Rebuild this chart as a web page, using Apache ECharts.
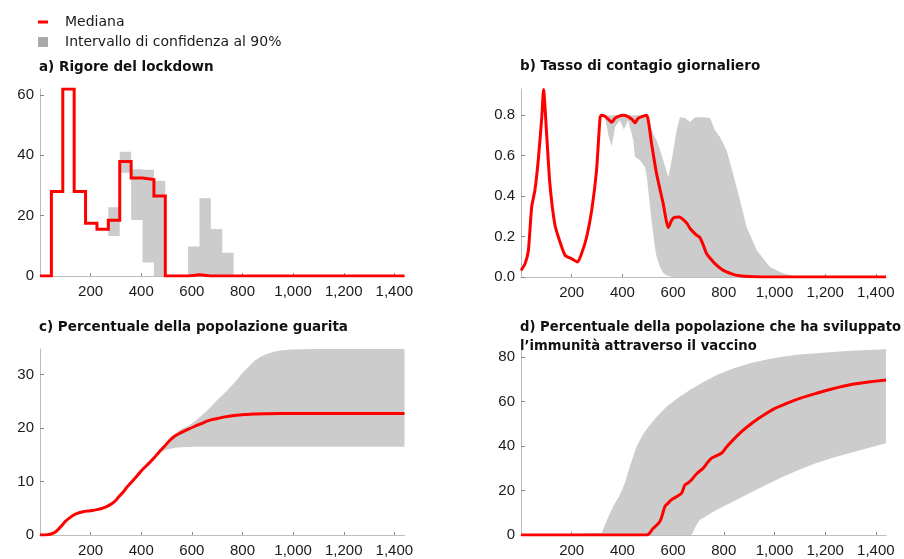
<!DOCTYPE html>
<html>
<head>
<meta charset="utf-8">
<script src="https://cdn.jsdelivr.net/npm/echarts@6/dist/echarts.min.js"></script>
<style>
html,body{margin:0;padding:0;background:#fff;}
#chart{width:904px;height:559px;}
</style>
</head>
<body>
<div id="chart"></div>
<script>
// ---------- Data ----------
const xTickValues = [200, 400, 600, 800, 1000, 1200, 1400];

// a) Rigore del lockdown (step function, value holds from x[i] to x[i+1])
const aX      = [0, 45, 90, 135, 180, 225, 270, 315, 360, 405, 450, 495, 540, 585, 630, 675, 720, 765, 1440];
const aMedian = [0, 28, 62, 28, 17.5, 15.5, 18.5, 38, 32.5, 32, 26.5, 0, 0, 0.4, 0, 0, 0, 0, 0];
const aLow    = [0, 28, 62, 28, 17.5, 15.5, 13.3, 34.2, 18.6, 4.5, 0, 0, 0, 0, 0, 0, 0, 0, 0];
const aHigh   = [0, 28, 62, 28, 17.5, 15.5, 22.8, 41.2, 35.4, 35.2, 31.6, 0, 0, 9.8, 25.8, 15.6, 7.7, 0, 0];
const aYTicks = [0, 20, 40, 60];

// b) Tasso di contagio giornaliero
const bX = [0, 16, 29, 42, 55, 68, 82, 89, 101, 114, 134, 154, 174, 200, 223, 239, 259, 279, 298, 312, 318,
            331, 345, 358, 370, 385, 403, 420, 438, 450, 462, 480, 496,
            515, 535, 561, 581, 594, 605, 625, 640, 655, 667, 690, 706, 720, 732, 748, 765, 790, 811, 840, 864, 900, 950, 1000, 1440];
const bMedian = [0.033, 0.066, 0.13, 0.346, 0.43, 0.577, 0.79, 0.927, 0.71, 0.46, 0.256, 0.173, 0.107, 0.09, 0.074, 0.116, 0.198, 0.33, 0.528, 0.79, 0.8,
            0.795, 0.78, 0.765, 0.785, 0.795, 0.8, 0.795, 0.78, 0.763, 0.785, 0.795, 0.8,
            0.66, 0.51, 0.363, 0.245, 0.28, 0.295, 0.297, 0.284, 0.265, 0.24, 0.21, 0.195, 0.155, 0.116, 0.09, 0.066, 0.04, 0.025, 0.012, 0.006, 0.002, 0.0005, 0, 0];
const bBandX = [312, 331, 345, 358, 371, 390, 406, 423, 443, 450, 469, 489, 496, 502, 509, 515, 528, 535, 548, 561, 575, 581, 590,
                601, 614, 627, 647, 667, 686, 719, 746, 765, 785, 811, 837, 864, 890, 930, 982, 1035, 1087, 1150, 1440];
const bLow  = [0.8, 0.79, 0.7, 0.645, 0.742, 0.775, 0.73, 0.775, 0.676, 0.594, 0.577, 0.544, 0.5, 0.43, 0.35, 0.28, 0.148, 0.1, 0.05, 0.02, 0.008, 0.005, 0.002,
               0, 0, 0, 0, 0, 0, 0, 0, 0, 0, 0, 0, 0, 0, 0, 0, 0, 0, 0, 0];
const bHigh = [0.8, 0.8, 0.8, 0.8, 0.8, 0.8, 0.8, 0.8, 0.8, 0.8, 0.8, 0.8, 0.8, 0.79, 0.76, 0.73, 0.69, 0.676, 0.63, 0.577, 0.52, 0.495, 0.55,
               0.627, 0.726, 0.79, 0.787, 0.767, 0.79, 0.79, 0.787, 0.726, 0.693, 0.627, 0.51, 0.38, 0.247, 0.132, 0.05, 0.017, 0.003, 0, 0];
const bYTicks = [0, 0.2, 0.4, 0.6, 0.8];

// c) Percentuale della popolazione guarita
const cX = [0, 20, 35, 50, 62, 75, 88, 100, 114, 130, 147, 170, 200, 225, 246, 265, 286, 300, 312, 330, 345, 375, 404, 430, 450, 470, 490, 510, 529, 555, 582, 610, 635, 665, 701, 730, 766, 800, 845, 900, 1000, 1440];
const cMedian = [0, 0.02, 0.1, 0.3, 0.62, 1.2, 1.87, 2.55, 3.1, 3.65, 4.06, 4.35, 4.55, 4.75, 5.0, 5.35, 5.93, 6.5, 7.2, 8.1, 9.05, 10.6, 12.2, 13.4, 14.4, 15.5, 16.5, 17.6, 18.4, 19.1, 19.7, 20.3, 20.8, 21.4, 21.8, 22.1, 22.35, 22.5, 22.66, 22.7, 22.72, 22.72];
const cBandX = [470, 490, 503, 520, 543, 560, 582, 610, 635, 670, 701, 735, 766, 800, 845, 870, 898, 925, 951, 990, 1030, 1100, 1440];
const cLow  = [15.5, 15.8, 16.0, 16.2, 16.35, 16.4, 16.45, 16.5, 16.5, 16.5, 16.5, 16.5, 16.5, 16.5, 16.5, 16.5, 16.5, 16.5, 16.5, 16.5, 16.5, 16.5, 16.5];
const cHigh = [15.5, 16.6, 17.3, 18.4, 19.3, 19.9, 20.3, 21.2, 22.2, 23.7, 25.3, 26.8, 28.4, 30.3, 32.5, 33.3, 33.9, 34.3, 34.5, 34.7, 34.75, 34.8, 34.8];
const cYTicks = [0, 10, 20, 30];

// d) Percentuale della popolazione che ha sviluppato l'immunità attraverso il vaccino
const dX = [0, 496, 520, 548, 560, 568, 580, 594, 615, 634, 647, 660, 673, 695, 719, 735, 752, 770, 792, 810, 837, 870, 903, 935, 969, 1000, 1035, 1100, 1166, 1230, 1298, 1370, 1440];
const dMedian = [0, 0, 2.8, 6.1, 10, 12.9, 14.3, 15.9, 17.3, 18.9, 22.6, 23.5, 24.9, 27.8, 30.1, 32.5, 34.6, 35.6, 36.9, 39.5, 42.8, 46.5, 49.6, 52.3, 54.8, 56.9, 58.6, 61.5, 63.8, 65.8, 67.6, 68.8, 69.8];
const dBandX = [0, 318, 340, 364, 390, 410, 430, 456, 480, 509, 540, 575, 620, 666, 673, 690, 706, 720, 772, 840, 903, 970, 1035, 1100, 1166, 1230, 1298, 1370, 1440];
const dLow  = [0, 0, 0, 0, 0, 0, 0, 0, 0, 0, 0, 0, 0, 0, 0, 4, 6.9, 7.8, 11.4, 15.2, 18.9, 22.7, 26.3, 29.5, 32.4, 34.8, 36.9, 39.1, 41.3];
const dHigh = [0, 0.9, 7, 12.9, 18, 23.4, 31, 39.8, 45, 49.6, 53.8, 57.8, 61.8, 65.3, 65.8, 66.8, 67.9, 68.8, 72, 75, 77.3, 79, 80.3, 81.2, 81.8, 82.4, 82.9, 83.3, 83.6];
const dYTicks = [0, 20, 40, 60, 80];

const titles = [
  'a) Rigore del lockdown',
  'b) Tasso di contagio giornaliero',
  'c) Percentuale della popolazione guarita',
  'd) Percentuale della popolazione che ha sviluppato\nl\u2019immunità attraverso il vaccino'
];
const MEDIAN_NAME = 'Mediana';
const BAND_NAME = 'Intervallo di confidenza al 90%';

// ---------- Helpers ----------
const RED = '#ff0000';
const BAND = '#cccccc';
const AXIS = '#bdbdbd';
const TICK_FONT = 'Liberation Sans, Arial, sans-serif';
const TEXT_FONT = 'DejaVu Sans, sans-serif';

function pairs(xs, ys) { return xs.map((x, i) => [x, ys[i]]); }
function commas(v) { return String(v).replace(/\B(?=(\d{3})+(?!\d))/g, ','); }

// Confidence band drawn as one polygon between lower and upper bound, via the axis scales
function bandSeries(idx, bx, lo, hi, step) {
  return {
    type: 'custom', name: BAND_NAME, xAxisIndex: idx, yAxisIndex: idx, z: 1, silent: true,
    itemStyle: { color: '#aaaaaa' },
    data: bx.map((x, i) => [x, lo[i], hi[i]]),
    encode: { x: 0, y: [1, 2] },
    clip: true,
    renderItem: function (params, api) {
      if (params.dataIndex !== 0) return null;
      const top = [], bottom = [];
      for (let i = 0; i < bx.length; i++) {
        if (step && i > 0) {
          top.push(api.coord([bx[i], hi[i - 1]]));
          bottom.push(api.coord([bx[i], lo[i - 1]]));
        }
        top.push(api.coord([bx[i], hi[i]]));
        bottom.push(api.coord([bx[i], lo[i]]));
      }
      const pts = top.concat(bottom.reverse());
      return { type: 'polygon', shape: { points: pts }, style: { fill: BAND, stroke: null } };
    }
  };
}

function medianSeries(idx, xs, med, step, smooth) {
  return {
    type: 'line', name: MEDIAN_NAME, xAxisIndex: idx, yAxisIndex: idx,
    data: pairs(xs, med), symbol: 'none', step: step || false, smooth: smooth || false,
    lineStyle: { color: RED, width: 3, join: 'miter' },
    itemStyle: { color: RED }, z: 3
  };
}

function xAxisCfg(idx) {
  return {
    type: 'value', gridIndex: idx, min: 0, max: 1440,
    axisLine: { show: true, lineStyle: { color: AXIS, width: 1 } },
    axisTick: { show: true, inside: true, length: 3, customValues: xTickValues, lineStyle: { color: '#888' } },
    axisLabel: { customValues: xTickValues, formatter: v => commas(v), fontFamily: TICK_FONT, fontSize: 15, color: '#1a1a1a', margin: 8 },
    splitLine: { show: false }
  };
}
function yAxisCfg(idx, max, ticks, dec) {
  return {
    type: 'value', gridIndex: idx, min: 0, max: max,
    axisLine: { show: true, lineStyle: { color: AXIS, width: 1 } },
    axisTick: { show: true, inside: true, length: 4, customValues: ticks, lineStyle: { color: '#888' } },
    axisLabel: { customValues: ticks, formatter: v => dec ? v.toFixed(dec) : String(v), fontFamily: TICK_FONT, fontSize: 15, color: '#1a1a1a', margin: 6 },
    splitLine: { show: false }
  };
}

const titleStyle = { fontFamily: TEXT_FONT, fontWeight: 'bold', fontSize: 13.5, color: '#111', lineHeight: 19 };
const titleStyleD = Object.assign({}, titleStyle, { fontSize: 13.2 });

const option = {
  animation: false,
  backgroundColor: '#ffffff',
  title: [
    { text: titles[0], left: 39, top: 58, padding: 0, textStyle: titleStyle },
    { text: titles[1], left: 520, top: 57, padding: 0, textStyle: titleStyle },
    { text: titles[2], left: 39, top: 318, padding: 0, textStyle: titleStyle },
    { text: titles[3], left: 520, top: 318, padding: 0, textStyle: titleStyleD }
  ],
  legend: {
    orient: 'vertical', left: 38, top: 14, padding: 0, itemGap: 4,
    itemWidth: 10, itemHeight: 10, selectedMode: false,
    textStyle: { fontFamily: TEXT_FONT, fontSize: 14, color: '#1a1a1a', lineHeight: 16, padding: [0, 0, 0, 12] },
    data: [
      { name: MEDIAN_NAME, icon: 'path://M0,0h10v3h-10z' },
      { name: BAND_NAME, icon: 'rect' }
    ]
  },
  grid: [
    { left: 40, top: 89, width: 364.5, height: 187 },
    { left: 521, top: 89, width: 365, height: 188 },
    { left: 40, top: 349, width: 364.5, height: 186 },
    { left: 521, top: 349, width: 365, height: 186 }
  ],
  xAxis: [xAxisCfg(0), xAxisCfg(1), xAxisCfg(2), xAxisCfg(3)],
  yAxis: [
    yAxisCfg(0, 62, aYTicks, 0),
    yAxisCfg(1, 0.93, bYTicks, 1),
    yAxisCfg(2, 34.8, cYTicks, 0),
    yAxisCfg(3, 83.7, dYTicks, 0)
  ],
  series: [
    bandSeries(0, aX, aLow, aHigh, true),
    medianSeries(0, aX, aMedian, 'end', false),
    bandSeries(1, bBandX, bLow, bHigh, false),
    medianSeries(1, bX, bMedian, false, 0.2),
    bandSeries(2, cBandX, cLow, cHigh, false),
    medianSeries(2, cX, cMedian, false, 0.3),
    bandSeries(3, dBandX, dLow, dHigh, false),
    medianSeries(3, dX, dMedian, false, 0.3)
  ]
};

const chart = echarts.init(document.getElementById('chart'), null, { renderer: 'canvas' });
chart.setOption(option);
</script>
</body>
</html>
